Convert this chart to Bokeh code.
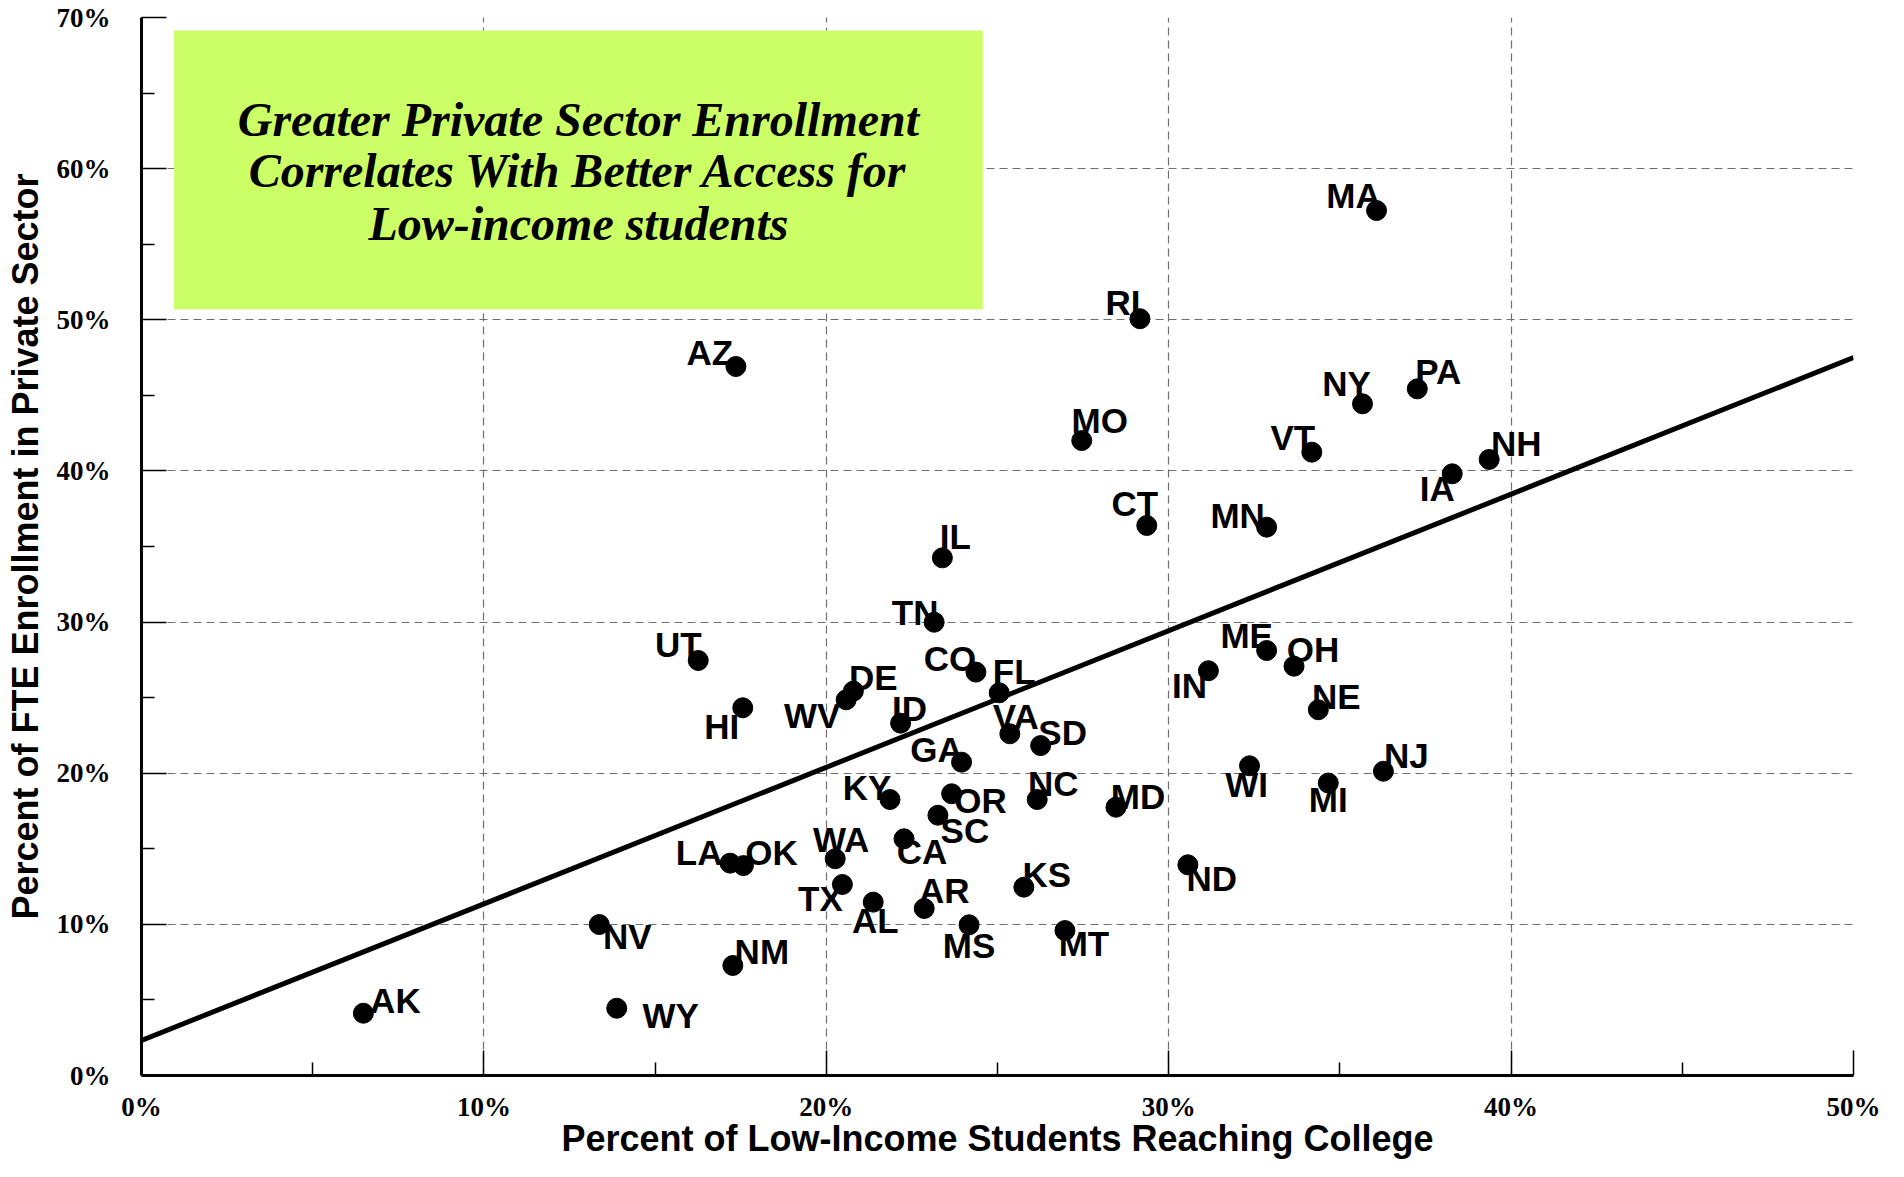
from bokeh.plotting import figure
from bokeh.models import (Range1d, FixedTicker, ColumnDataSource, BoxAnnotation, Label)
from bokeh.core.properties import value
from bokeh.embed import file_html
from bokeh.resources import INLINE

# ---------------- data ----------------
states = ["AK", "NV", "WY", "NM", "UT", "HI", "AZ", "LA", "OK", "TX",
          "WA", "WV", "DE", "AL", "KY", "ID", "CA", "AR", "SC", "TN",
          "IL", "OR", "GA", "MS", "CO", "FL", "VA", "SD", "NC", "KS",
          "MT", "MO", "MD", "RI", "CT", "IN", "ND", "WI", "ME", "MN",
          "OH", "VT", "NE", "MI", "NY", "MA", "NJ", "PA", "IA", "NH"]

low_income_college_pct = [6.48, 13.37, 13.88, 17.27, 16.26, 17.56, 17.36, 17.19, 17.58, 20.47,
                          20.26, 20.58, 20.79, 21.37, 21.86, 22.17, 22.27, 22.86, 23.26, 23.15,
                          23.39, 23.66, 23.95, 24.17, 24.37, 25.05, 25.36, 26.26, 26.16, 25.77,
                          26.97, 27.46, 28.46, 29.16, 29.36, 31.16, 30.56, 32.36, 32.86, 32.86,
                          33.66, 34.18, 34.37, 34.66, 35.66, 36.07, 36.27, 37.26, 38.28, 39.36]

private_enrollment_pct = [4.12, 9.99, 4.45, 7.28, 27.46, 24.33, 46.91, 14.05, 13.89, 12.64,
                          14.34, 24.86, 25.43, 11.47, 18.26, 23.31, 15.66, 11.05, 17.22, 29.99,
                          34.25, 18.64, 20.73, 9.97, 26.69, 25.32, 22.61, 21.83, 18.26, 12.46,
                          9.59, 42.01, 17.75, 50.07, 36.39, 26.78, 13.94, 20.49, 28.12, 36.28,
                          27.08, 41.24, 24.20, 19.35, 44.44, 57.23, 20.13, 45.43, 39.81, 40.76]

trend_x = [0, 50]
trend_y = [2.32, 47.5]

x_ticks = [0, 10, 20, 30, 40, 50]
y_ticks = [0, 10, 20, 30, 40, 50, 60, 70]
x_tick_labels = ["0%", "10%", "20%", "30%", "40%", "50%"]
y_tick_labels = ["0%", "10%", "20%", "30%", "40%", "50%", "60%", "70%"]

callout_lines = ["Greater Private Sector Enrollment",
                 "Correlates With Better Access for",
                 "Low-income students"]

x_title = "Percent of Low-Income Students Reaching College"
y_title = "Percent of FTE Enrollment in Private Sector"

# ---------------- layout (label offsets in screen px: right, down) ----------------
label_offsets = {
    "MA": (-23, -15), "RI": (-17, -16), "NY": (-16, -20), "PA": (21, -17),
    "VT": (-19, -15), "NH": (27, -16), "IA": (-15, 15), "MN": (-29, -12),
    "CT": (-12, -22), "IL": (13, -21), "TN": (-19, -10), "CO": (-26, -14),
    "FL": (15, -21), "DE": (20, -14), "WV": (-34, 16), "ID": (9, -15),
    "VA": (6, -17), "SD": (22, -13), "GA": (-25, -13), "KY": (-23, -12),
    "OR": (29, 7), "NC": (16, -16), "MD": (22, -11), "SC": (27, 15),
    "CA": (18, 13), "WA": (6, -19), "TX": (-22, 14), "AL": (2, 18),
    "AR": (20, -18), "KS": (23, -13), "MS": (0, 21), "MT": (19, 13),
    "ND": (24, 14), "WI": (-3, 19), "ME": (-20, -15), "IN": (-19, 15),
    "OH": (19, -17), "NE": (18, -13), "MI": (0, 16), "NJ": (23, -16),
    "UT": (-20, -16), "HI": (-21, 19), "LA": (-31, -11), "OK": (28, -13),
    "NV": (28, 12), "NM": (29, -14), "AK": (32, -13), "WY": (54, 7),
    "AZ": (-26, -14), "MO": (18, -20),
}

src = ColumnDataSource(data=dict(
    x=low_income_college_pct,
    y=private_enrollment_pct,
    st=states,
    dx=[label_offsets[s][0] for s in states],
    dy=[label_offsets[s][1] for s in states],
))

p = figure(width=1888, height=1161, output_backend="svg", toolbar_location=None,
           x_range=Range1d(0, 50), y_range=Range1d(0, 70),
           min_border_left=141, min_border_right=35, min_border_top=17, min_border_bottom=86)
p.outline_line_color = None
p.background_fill_color = "white"
p.border_fill_color = "white"

# axes
for ax, ticks, labels, minors in ((p.xaxis[0], x_ticks, x_tick_labels, [5, 15, 25, 35, 45]),
                                  (p.yaxis[0], y_ticks, y_tick_labels, [5, 15, 25, 35, 45, 55, 65])):
    ax.ticker = FixedTicker(ticks=ticks, minor_ticks=minors)
    ax.major_label_overrides = {t: l for t, l in zip(ticks, labels)}
    ax.axis_line_color = "black"
    ax.axis_line_width = 3
    ax.major_tick_in = 25
    ax.major_tick_out = 0
    ax.minor_tick_in = 13
    ax.minor_tick_out = 0
    ax.major_tick_line_color = "black"
    ax.major_tick_line_width = 1.5
    ax.minor_tick_line_color = "black"
    ax.minor_tick_line_width = 1.5
    ax.major_label_text_font = "Liberation Serif"
    ax.major_label_text_font_style = "bold"
    ax.major_label_text_font_size = "27px"
    ax.major_label_text_color = "black"
    ax.axis_label_text_font = "Liberation Sans"
    ax.axis_label_text_font_style = "bold"
    ax.axis_label_text_font_size = "36px"
    ax.axis_label_text_color = "black"

p.xaxis.axis_label = x_title
p.yaxis.axis_label = y_title
p.xaxis.major_label_standoff = 16
p.xaxis.axis_label_standoff = -7
p.yaxis.major_label_standoff = 31
p.yaxis.axis_label_standoff = 8
p.yaxis.major_label_orientation = "horizontal"

# grid
for g in (p.xgrid[0], p.ygrid[0]):
    g.grid_line_color = "#707070"
    g.grid_line_width = 1.2
    g.grid_line_dash = "8 5"
p.xgrid.ticker = FixedTicker(ticks=x_ticks)
p.ygrid.ticker = FixedTicker(ticks=y_ticks)

# callout box
box_left, box_right, box_bottom, box_top = 0.95, 24.57, 50.7, 69.14
p.add_layout(BoxAnnotation(left=box_left, right=box_right, bottom=box_bottom, top=box_top,
                           fill_color="#CCFF66", fill_alpha=1.0, line_color=None, level="underlay"))
cx = (box_left + box_right) / 2
line_ys = [63.25, 59.88, 56.37]
for txt, ly in zip(callout_lines, line_ys):
    p.add_layout(Label(x=cx, y=ly, text=txt, text_align="center", text_baseline="middle",
                       text_font="Liberation Serif", text_font_style="bold italic",
                       text_font_size="48px", text_color="black"))

# trend line
p.line(trend_x, trend_y, line_color="black", line_width=5)

# points
p.scatter("x", "y", source=src, size=20, fill_color="black", line_color="black")

# state labels
p.text("x", "y", text="st", source=src, x_offset="dx", y_offset="dy",
       text_align="center", text_baseline="middle",
       text_font=value("Liberation Sans"), text_font_style="bold",
       text_font_size="35px", text_color="black")

open("out.html", "w").write(file_html(p, INLINE))
